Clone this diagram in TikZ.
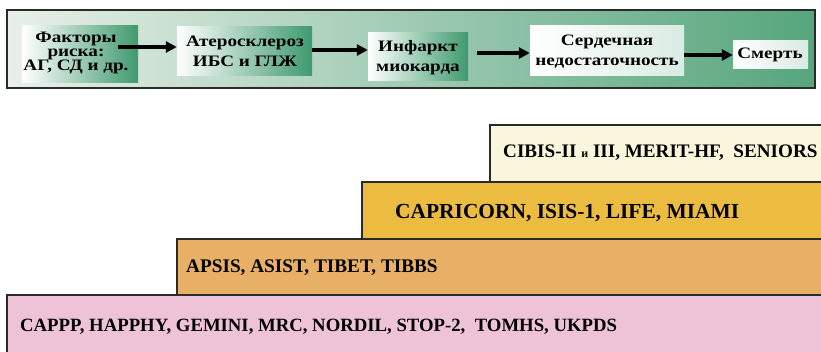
\documentclass[tikz,border=0pt]{standalone}
\usepackage{fontspec}
\setmainfont{Liberation Serif}[BoldFont={Liberation Serif Bold}]
\newfontfamily\stagefont{Liberation Serif Bold}[FakeStretch=1.2]
\usetikzlibrary{arrows.meta}
\definecolor{bannerL}{HTML}{E8EFE9}
\definecolor{bannerR}{HTML}{56A67D}
\definecolor{boxG}{HTML}{3F9A6E}
\definecolor{frame}{HTML}{2A2A2A}
\definecolor{cream}{HTML}{FAF6DC}
\definecolor{gold}{HTML}{EBBC40}
\definecolor{tan}{HTML}{E8B067}
\definecolor{rose}{HTML}{EEC2D7}
\tikzset{
  stage/.style={inner sep=0pt, align=center, font=\stagefont\fontsize{16}{20}\selectfont},
  gbox/.style={inner sep=0pt, left color=white, right color=boxG},
  wbox/.style={inner sep=0pt, left color=white, right color=white!80!boxG},
  arr/.style={line width=3.2bp, -{Triangle[length=11bp,width=11bp]}},
  tier/.style={draw=frame, line width=1.4bp},
  trial/.style={anchor=west, inner sep=0pt, font=\rmfamily\bfseries\fontsize{18.8}{20}\selectfont}
}
\begin{document}
\begin{tikzpicture}[x=1bp,y=-1bp]
\useasboundingbox[fill=white] (0,0) rectangle (821,351);

% banner with the disease chain
\path[draw=frame, line width=1.6bp, left color=bannerL, right color=bannerR]
  (7,10) rectangle (815,88);

\node[gbox, minimum width=116bp, minimum height=57bp] (b1) at (80,53.5) {};
\node[gbox, minimum width=135bp, minimum height=49bp] (b2) at (244.5,50.5) {};
\node[gbox, minimum width=100bp, minimum height=48bp] (b3) at (418,56) {};
\node[wbox, minimum width=154bp, minimum height=50bp] (b4) at (607,50) {};
\node[wbox, minimum width=75bp, minimum height=28bp] (b5) at (770.5,54) {};

\node[stage, font=\stagefont\fontsize{16}{14.5}\selectfont] (t1) at (76,53) {Факторы\\риска:\\АГ, СД и др.};
\node[stage] (t2) at (245,51) {Атеросклероз\\ИБС и ГЛЖ};
\node[stage] (t3) at (418,58) {Инфаркт\\миокарда};
\node[stage] (t4) at (607,52) {Сердечная\\недостаточность};
\node[stage] (t5) at (770,55) {Смерть};

\coordinate (a1) at (118,47);
\coordinate (a3) at (477,53);
\draw[arr] (a1) -- (b2.west |- a1);
\draw[arr] (b2.east |- 0,50) -- (b3.west |- 0,50);
\draw[arr] (a3) -- (b4.west |- a3);
\draw[arr] (b4.east |- 0,55) -- (b5.west |- 0,55);

% stepped tiers of trials
\path[tier, fill=cream] (490,125) rectangle (830,182);
\path[tier, fill=gold]  (362,182) rectangle (830,239);
\path[tier, fill=tan]   (177,239) rectangle (830,295);
\path[tier, fill=rose]  (7,295)   rectangle (830,360);

\node[trial, font=\rmfamily\bfseries\fontsize{19.2}{20}\selectfont] (s4) at (503,153) {CIBIS-II {\fontsize{12}{12}\selectfont и} III, MERIT-HF,\ \ SENIORS};
\node[trial, font=\rmfamily\bfseries\fontsize{21.5}{22}\selectfont] (s3) at (395,213) {CAPRICORN, ISIS-1, LIFE, MIAMI};
\node[trial, font=\rmfamily\bfseries\fontsize{19.3}{20}\selectfont] (s2) at (186,268) {APSIS, ASIST, TIBET, TIBBS};
\node[trial] (s1) at (20,327) {CAPPP, HAPPHY, GEMINI, MRC, NORDIL, STOP-2,\ \ TOMHS, UKPDS};
\end{tikzpicture}
\end{document}
